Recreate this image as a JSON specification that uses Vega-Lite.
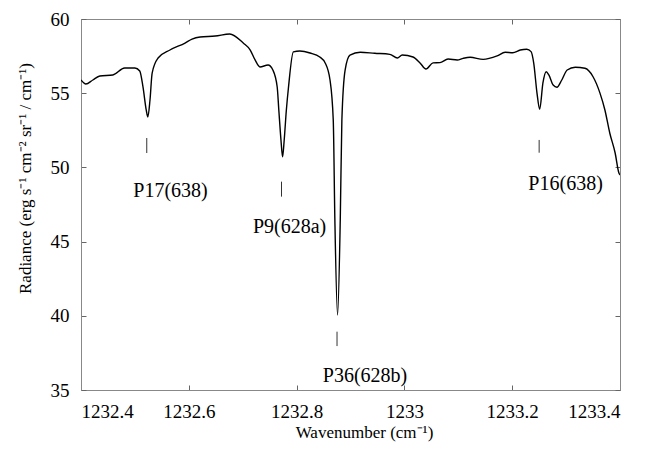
{
  "$schema": "https://vega.github.io/schema/vega-lite/v6.json",
  "width": 539,
  "height": 371,
  "autosize": {"type": "none"},
  "padding": {"left": 81, "top": 19, "right": 29, "bottom": 62},
  "background": "white",
  "view": {"stroke": "#888888", "strokeWidth": 1},
  "config": {
    "font": "'Liberation Serif', serif",
    "text": {"font": "'Liberation Serif', serif"},
    "axis": {
      "domainColor": "#888888",
      "tickColor": "#666666",
      "tickSize": -5,
      "labelPadding": 17,
      "labelFont": "'Liberation Serif', serif",
      "labelFontSize": 19,
      "labelColor": "#000000",
      "titleFont": "'Liberation Serif', serif",
      "titleFontSize": 17,
      "titleFontWeight": "normal",
      "titleColor": "#000000",
      "grid": false
    }
  },
  "datasets": {
    "spectrum": [
      {"wn": 1232.400, "rad": 55.89}, {"wn": 1232.409, "rad": 55.62}, {"wn": 1232.422, "rad": 55.89},
      {"wn": 1232.435, "rad": 56.16}, {"wn": 1232.459, "rad": 56.23}, {"wn": 1232.481, "rad": 56.70},
      {"wn": 1232.500, "rad": 56.70}, {"wn": 1232.509, "rad": 56.50}, {"wn": 1232.515, "rad": 55.42},
      {"wn": 1232.521, "rad": 53.87}, {"wn": 1232.524, "rad": 53.40}, {"wn": 1232.528, "rad": 54.54},
      {"wn": 1232.532, "rad": 56.36}, {"wn": 1232.543, "rad": 57.37}, {"wn": 1232.565, "rad": 57.91},
      {"wn": 1232.593, "rad": 58.38}, {"wn": 1232.606, "rad": 58.65}, {"wn": 1232.621, "rad": 58.79},
      {"wn": 1232.649, "rad": 58.85}, {"wn": 1232.676, "rad": 58.99}, {"wn": 1232.701, "rad": 58.38},
      {"wn": 1232.714, "rad": 57.91}, {"wn": 1232.723, "rad": 57.24}, {"wn": 1232.732, "rad": 56.77},
      {"wn": 1232.747, "rad": 56.90}, {"wn": 1232.756, "rad": 56.56}, {"wn": 1232.764, "rad": 55.42},
      {"wn": 1232.767, "rad": 53.87}, {"wn": 1232.771, "rad": 51.85}, {"wn": 1232.774, "rad": 50.72},
      {"wn": 1232.777, "rad": 51.85}, {"wn": 1232.781, "rad": 53.87}, {"wn": 1232.785, "rad": 55.42},
      {"wn": 1232.794, "rad": 57.78}, {"wn": 1232.806, "rad": 57.84}, {"wn": 1232.825, "rad": 57.71},
      {"wn": 1232.843, "rad": 57.44}, {"wn": 1232.853, "rad": 57.04}, {"wn": 1232.862, "rad": 55.89},
      {"wn": 1232.868, "rad": 53.19}, {"wn": 1232.871, "rad": 46.46}, {"wn": 1232.876, "rad": 40.05},
      {"wn": 1232.881, "rad": 46.46}, {"wn": 1232.884, "rad": 53.19}, {"wn": 1232.890, "rad": 56.56},
      {"wn": 1232.899, "rad": 57.57}, {"wn": 1232.918, "rad": 57.76}, {"wn": 1232.945, "rad": 57.69},
      {"wn": 1232.973, "rad": 57.62}, {"wn": 1232.987, "rad": 57.37}, {"wn": 1232.996, "rad": 57.57},
      {"wn": 1233.016, "rad": 57.44}, {"wn": 1233.029, "rad": 57.04}, {"wn": 1233.040, "rad": 56.63},
      {"wn": 1233.053, "rad": 57.04}, {"wn": 1233.066, "rad": 57.06}, {"wn": 1233.081, "rad": 57.30},
      {"wn": 1233.098, "rad": 57.24}, {"wn": 1233.109, "rad": 57.35}, {"wn": 1233.122, "rad": 57.42},
      {"wn": 1233.146, "rad": 57.28}, {"wn": 1233.172, "rad": 57.51}, {"wn": 1233.187, "rad": 57.76},
      {"wn": 1233.201, "rad": 57.73}, {"wn": 1233.215, "rad": 57.91}, {"wn": 1233.227, "rad": 57.96},
      {"wn": 1233.235, "rad": 57.80}, {"wn": 1233.240, "rad": 57.01}, {"wn": 1233.246, "rad": 55.01},
      {"wn": 1233.251, "rad": 53.92}, {"wn": 1233.257, "rad": 55.69}, {"wn": 1233.263, "rad": 56.45},
      {"wn": 1233.268, "rad": 56.23}, {"wn": 1233.276, "rad": 55.55}, {"wn": 1233.283, "rad": 55.40},
      {"wn": 1233.292, "rad": 55.89}, {"wn": 1233.302, "rad": 56.56}, {"wn": 1233.317, "rad": 56.75},
      {"wn": 1233.335, "rad": 56.68}, {"wn": 1233.350, "rad": 56.11}, {"wn": 1233.363, "rad": 54.99},
      {"wn": 1233.372, "rad": 53.87}, {"wn": 1233.381, "rad": 52.32}, {"wn": 1233.391, "rad": 50.97},
      {"wn": 1233.398, "rad": 49.62}, {"wn": 1233.400, "rad": 49.49}
    ],
    "markers": [
      {"wn": 1232.522, "top": 51.98, "bottom": 50.97},
      {"wn": 1232.772, "top": 49.04, "bottom": 48.03},
      {"wn": 1232.875, "top": 38.93, "bottom": 37.96},
      {"wn": 1233.250, "top": 51.85, "bottom": 50.99}
    ],
    "labels": [
      {"wn": 1232.566, "rad": 48.0, "name": "P17(638)"},
      {"wn": 1232.787, "rad": 45.58, "name": "P9(628a)"},
      {"wn": 1232.927, "rad": 35.56, "name": "P36(628b)"},
      {"wn": 1233.299, "rad": 48.48, "name": "P16(638)"}
    ]
  },
  "resolve": {"axis": {"x": "independent", "y": "independent"}},
  "layer": [
    {
      "data": {"name": "spectrum"},
      "mark": {"type": "line", "color": "#000000", "strokeWidth": 1.4, "interpolate": "monotone", "clip": true},
      "encoding": {
        "x": {
          "field": "wn", "type": "quantitative",
          "scale": {"domain": [1232.4, 1233.4], "nice": false, "zero": false},
          "axis": {
            "orient": "bottom",
            "values": [1232.4, 1232.6, 1232.8, 1233, 1233.2, 1233.4],
            "format": "~f",
            "title": "Wavenumber (cm⁻¹)",
            "titleX": 283,
            "titleY": 47,
            "titleBaseline": "alphabetic",
            "titleAnchor": null
          }
        },
        "y": {
          "field": "rad", "type": "quantitative",
          "scale": {"domain": [35, 60], "nice": false, "zero": false},
          "axis": {
            "orient": "left",
            "values": [35, 40, 45, 50, 55, 60],
            "title": "Radiance (erg s⁻¹ cm⁻² sr⁻¹ / cm⁻¹)",
            "titleX": -56,
            "titleY": 159,
            "titleAngle": -90,
            "titleBaseline": "middle",
            "titleAlign": "center"
          }
        }
      }
    },
    {
      "data": {"name": "spectrum"},
      "mark": {"type": "line", "opacity": 0},
      "encoding": {
        "x": {
          "field": "wn", "type": "quantitative",
          "axis": {
            "orient": "top",
            "values": [1232.4, 1232.6, 1232.8, 1233, 1233.2, 1233.4],
            "labels": false,
            "title": null
          }
        },
        "y": {
          "field": "rad", "type": "quantitative",
          "axis": {
            "orient": "right",
            "values": [35, 40, 45, 50, 55, 60],
            "labels": false,
            "title": null
          }
        }
      }
    },
    {
      "data": {"name": "markers"},
      "mark": {"type": "rule", "color": "#333333", "strokeWidth": 1},
      "encoding": {
        "x": {"field": "wn", "type": "quantitative", "axis": null},
        "y": {"field": "top", "type": "quantitative", "axis": null},
        "y2": {"field": "bottom"}
      }
    },
    {
      "data": {"name": "labels"},
      "mark": {"type": "text", "font": "'Liberation Serif', serif", "fontSize": 20, "color": "#000000", "align": "center", "baseline": "alphabetic"},
      "encoding": {
        "x": {"field": "wn", "type": "quantitative", "axis": null},
        "y": {"field": "rad", "type": "quantitative", "axis": null},
        "text": {"field": "name"}
      }
    }
  ]
}
